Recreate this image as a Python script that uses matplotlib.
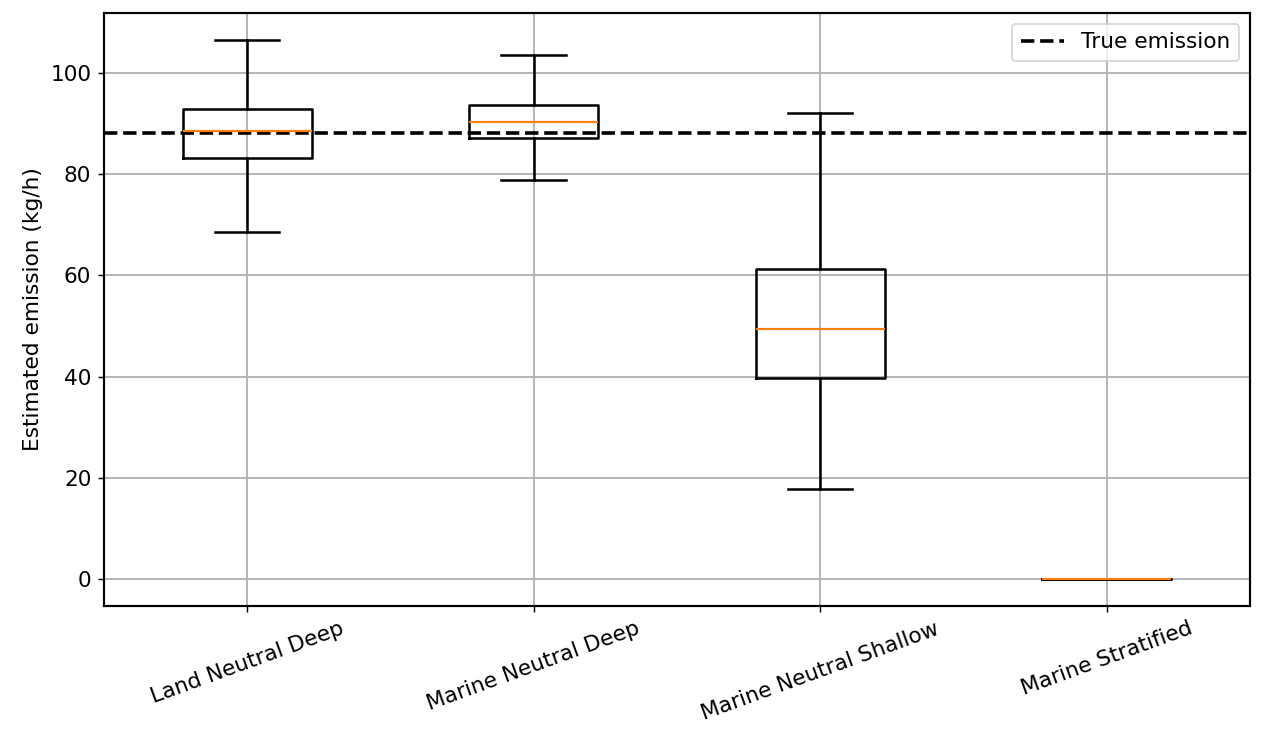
import matplotlib
matplotlib.use("Agg")
import matplotlib.pyplot as plt

# scenario names
labels = ["Land Neutral Deep", "Marine Neutral Deep", "Marine Neutral Shallow", "Marine Stratified"]

# box statistics (kg/h)
whislo = [68.6, 78.9, 17.8, 0.0]
q1 = [83.2, 87.2, 39.7, 0.0]
med = [88.5, 90.3, 49.4, 0.0]
q3 = [92.9, 93.7, 61.3, 0.0]
whishi = [106.5, 103.6, 92.1, 0.0]

true_emission = 88.1


def main():
	plt.rcParams["font.size"] = 12
	stats = []
	for i in range(len(labels)):
		stats.append({"label": labels[i], "whislo": whislo[i], "q1": q1[i], "med": med[i],
					  "q3": q3[i], "whishi": whishi[i], "fliers": []})

	fig, ax = plt.subplots(figsize=(1263 / 130, 742 / 130), dpi=130)
	fig.subplots_adjust(left=0.0823, right=0.9897, top=0.9825, bottom=0.1833)

	lw = 1.4
	ax.bxp(stats, positions=[1, 2, 3, 4], widths=0.45, showfliers=False,
		   boxprops=dict(linewidth=lw), whiskerprops=dict(linewidth=lw),
		   capprops=dict(linewidth=lw), medianprops=dict(linewidth=1.2, color="C1"))
	ax.axhline(true_emission, color="k", linestyle="--", linewidth=2, label="True emission")

	ax.set_ylabel("Estimated emission (kg/h)")
	ax.grid(True, color="#b0b0b0", linewidth=1.0)
	ax.set_axisbelow(True)
	for s in ax.spines.values():
		s.set_linewidth(1.2)
	plt.setp(ax.get_xticklabels(), rotation=20)
	ax.legend(loc="upper right")

	fig.savefig("out.png", dpi=130)


if __name__ == "__main__":
	main()
